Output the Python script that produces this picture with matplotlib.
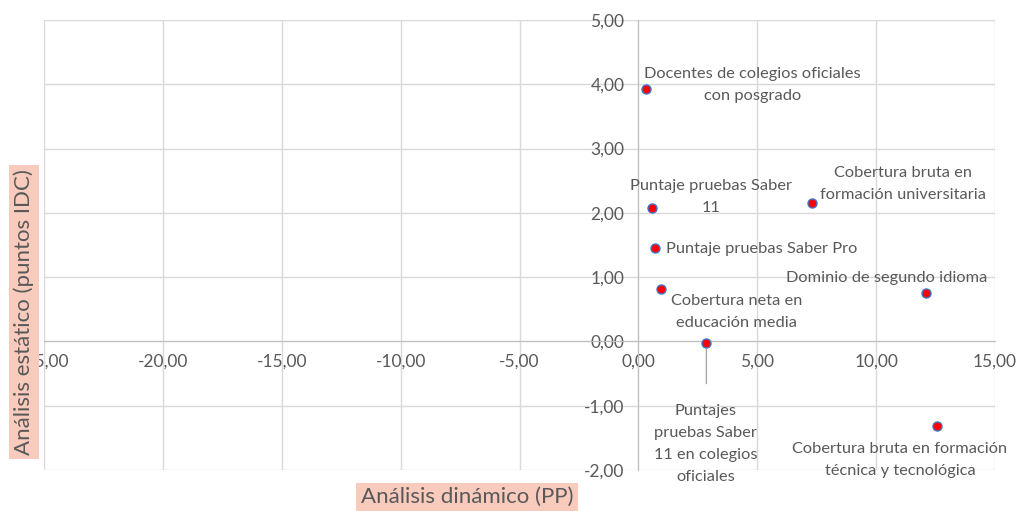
import matplotlib.pyplot as plt
from matplotlib.ticker import FuncFormatter, MultipleLocator

# ##### DATA ######
labels = [
    'Docentes de colegios oficiales\ncon posgrado',
    'Puntaje pruebas Saber\n11',
    'Cobertura bruta en\nformación universitaria',
    'Puntaje pruebas Saber Pro',
    'Dominio de segundo idioma',
    'Cobertura neta en\neducación media',
    'Puntajes\npruebas Saber\n11 en colegios\noficiales',
    'Cobertura bruta en formación\ntécnica y tecnológica',
]
x_pp = [0.34, 0.59, 7.30, 0.70, 12.10, 0.97, 2.86, 12.56]
y_idc = [3.92, 2.08, 2.16, 1.46, 0.76, 0.81, -0.02, -1.31]

# label offsets in pixels (dx, dy) and alignment
label_pos = [
    ((106, 4), 'center'),
    ((59, 11), 'center'),
    ((91, 19), 'center'),
    ((11, -1), 'left'),
    ((-39, 15), 'center'),
    ((75, -23), 'center'),
    ((-1, -101), 'center'),
    ((-37, -34), 'center'),
]
#################

plt.rcParams['font.family'] = ['Lato', 'DejaVu Sans']
grey = '#595959'

fig = plt.figure(figsize=(10.18, 5.11), dpi=100)
ax = fig.add_axes([44 / 1018, 1 - 470 / 511, (995 - 44) / 1018, (470 - 20) / 511])

ax.set_xlim(-25, 15)
ax.set_ylim(-2, 5)
ax.xaxis.set_major_locator(MultipleLocator(5))
ax.yaxis.set_major_locator(MultipleLocator(1))
fmt = FuncFormatter(lambda v, p: f'{v:.2f}'.replace('.', ','))
ax.xaxis.set_major_formatter(fmt)
ax.yaxis.set_major_formatter(fmt)

ax.grid(True, color='#d9d9d9', linewidth=1)
ax.set_axisbelow(True)
for s in ['top', 'right']:
    ax.spines[s].set_visible(False)
ax.spines['left'].set_position(('data', 0))
ax.spines['bottom'].set_position(('data', 0))
ax.spines['left'].set_color('#bfbfbf')
ax.spines['bottom'].set_color('#bfbfbf')
ax.tick_params(axis='both', length=0, labelsize=12.5, labelcolor=grey)
ax.tick_params(axis='x', pad=9)
ax.tick_params(axis='y', pad=10)

ax.scatter(x_pp, y_idc, s=42, c='#ff0000', edgecolors='#4472c4', linewidths=1, zorder=5)

for i, lab in enumerate(labels):
    (dx, dy), ha = label_pos[i]
    ax.annotate(lab, (x_pp[i], y_idc[i]), xytext=(dx, dy), textcoords='offset pixels',
                ha=ha, va='center', fontsize=11.8, color=grey, linespacing=1.72, zorder=6)

# leader line for the Saber 11 oficiales label
ax.annotate('', (x_pp[6], y_idc[6] - 0.06), xytext=(x_pp[6], -0.7),
            arrowprops=dict(arrowstyle='-', color='#a6a6a6', lw=1))

fig.text(24 / 1018, 1 - 312 / 511, 'Análisis estático (puntos IDC)', rotation=90,
         ha='center', va='center', fontsize=16, color=grey, zorder=10,
         bbox=dict(boxstyle='square,pad=0.2', fc='#f8cbbd', ec='none'))
fig.text(467 / 1018, 1 - 497 / 511, 'Análisis dinámico (PP)',
         ha='center', va='center', fontsize=16, color=grey, zorder=10,
         bbox=dict(boxstyle='square,pad=0.2', fc='#f8cbbd', ec='none'))

plt.savefig('out.png', dpi=100)
plt.close()
